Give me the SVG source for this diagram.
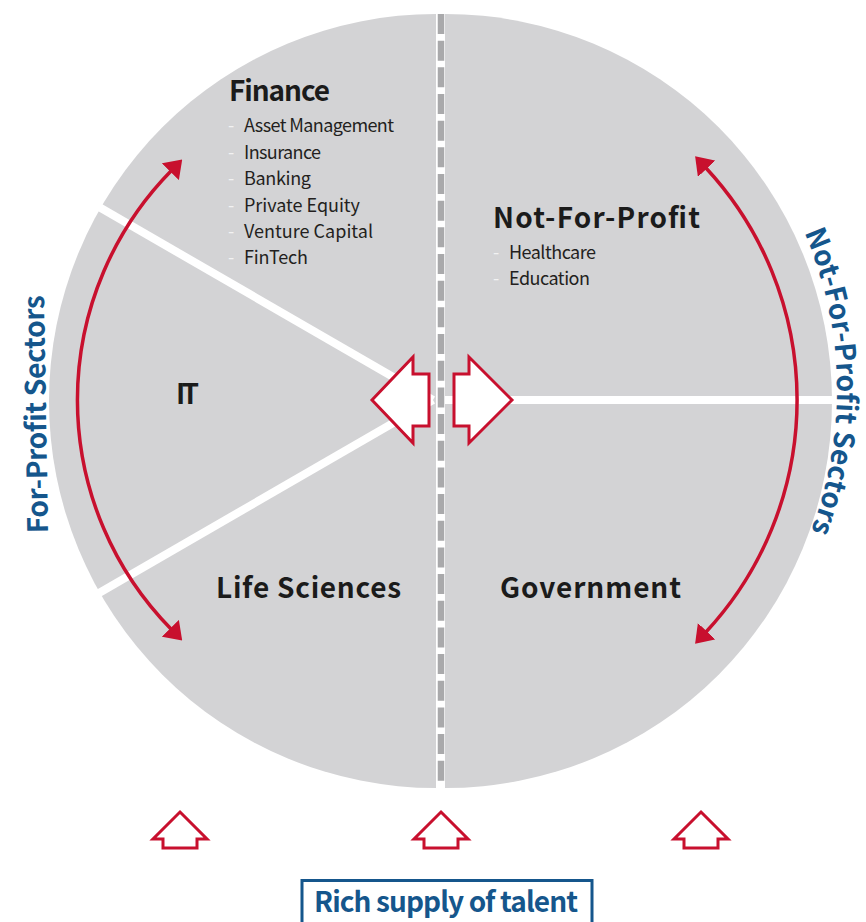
<svg xmlns="http://www.w3.org/2000/svg" width="866" height="922" viewBox="0 0 866 922">
  <defs>
    <style>
      .half { fill: #d3d3d5; }
      .split { stroke: #ffffff; stroke-width: 8; fill: none; }
      .axis { stroke: #a9a9ab; stroke-width: 6.5; stroke-dasharray: 20 6.67; fill: none; }
      .swing { stroke: #c8102e; stroke-width: 3.5; fill: none; }
      .block { fill: #ffffff; stroke: #c8102e; stroke-width: 3; stroke-linejoin: miter; }
      .head { font-family: "Noto Sans CJK SC", "Noto Sans", sans-serif; font-size: 28px; font-weight: 700; fill: #1b1b1b; }
      .item { font-family: "Noto Sans CJK SC", "Noto Sans", sans-serif; font-size: 18px; font-weight: 400; fill: #231f20; }
      .bullet { font-family: "Noto Sans CJK SC", "Noto Sans", sans-serif; font-size: 18px; fill: #f2f2f2; }
      .side { font-family: "Noto Sans CJK SC", "Noto Sans", sans-serif; font-size: 28px; font-weight: 700; fill: #15568c; }
      .talent-box { fill: #ffffff; stroke: #15568c; stroke-width: 3; }
    </style>
    <marker id="tip" viewBox="0 0 17 24" refX="1" refY="12" markerWidth="17" markerHeight="24" markerUnits="userSpaceOnUse" orient="auto-start-reverse">
      <path d="M0,0 L17,12 L0,24 Z" fill="#c8102e"/>
    </marker>
    <!-- baseline for the curved right-hand caption -->
    <path id="rightRim" d="M744.6,136.1 A395,395 0 0 1 744.6,643.9"/>
  </defs>

  <!-- pie halves -->
  <g id="for-profit-half">
    <path class="half" d="M436,14 A387,387 0 0 0 436,788 Z"/>
  </g>
  <g id="not-for-profit-half">
    <path class="half" d="M445,14 A387,387 0 0 1 445,788 Z"/>
  </g>

  <!-- sector dividers and centre axis -->
  <g id="dividers">
    <line class="split" x1="433" y1="400" x2="80" y2="196"/>
    <line class="split" x1="433" y1="400" x2="80" y2="604"/>
    <line class="split" x1="445" y1="400" x2="845" y2="400" stroke-width="9"/>
    <line class="axis" x1="441" y1="14" x2="441" y2="781"/>
  </g>

  <!-- sector labels -->
  <g id="finance">
    <text class="head" x="229" y="101" textLength="101">Finance</text>
    <text class="bullet" x="228" y="132">-</text>
    <text class="item" x="244" y="132" textLength="150">Asset Management</text>
    <text class="bullet" x="228" y="158.5">-</text>
    <text class="item" x="244" y="158.5" textLength="77">Insurance</text>
    <text class="bullet" x="228" y="185">-</text>
    <text class="item" x="244" y="185" textLength="67">Banking</text>
    <text class="bullet" x="228" y="211.5">-</text>
    <text class="item" x="244" y="211.5" textLength="116">Private Equity</text>
    <text class="bullet" x="228" y="238">-</text>
    <text class="item" x="244" y="238" textLength="129">Venture Capital</text>
    <text class="bullet" x="228" y="264">-</text>
    <text class="item" x="244" y="264" textLength="64">FinTech</text>
  </g>
  <g id="it">
    <text class="head" x="176" y="403.5" textLength="23">IT</text>
  </g>
  <g id="life-sciences">
    <text class="head" x="216" y="598" textLength="185">Life Sciences</text>
  </g>
  <g id="not-for-profit">
    <text class="head" x="493" y="228" textLength="207">Not-For-Profit</text>
    <text class="bullet" x="493" y="259">-</text>
    <text class="item" x="509" y="259" textLength="87">Healthcare</text>
    <text class="bullet" x="493" y="285">-</text>
    <text class="item" x="509" y="285" textLength="81">Education</text>
  </g>
  <g id="government">
    <text class="head" x="500" y="598" textLength="181">Government</text>
  </g>

  <!-- side captions -->
  <g id="for-profit-caption">
    <text class="side" transform="translate(46,414) rotate(-91)" text-anchor="middle" textLength="238">For-Profit Sectors</text>
  </g>
  <g id="not-for-profit-caption">
    <text class="side" font-size="27" letter-spacing="0.2"><textPath href="#rightRim" startOffset="267" text-anchor="middle">Not-For-Profit Sectors</textPath></text>
  </g>

  <!-- talent source -->
  <g id="talent">
    <rect class="talent-box" x="302" y="880.5" width="290" height="44"/>
    <text class="side" x="314" y="912" textLength="264">Rich supply of talent</text>
  </g>

  <!-- connectors -->
  <g id="connectors">
    <path class="swing" d="M171,171 A327,327 0 0 0 171,629" marker-start="url(#tip)" marker-end="url(#tip)"/>
    <path class="swing" d="M706,168 A341,341 0 0 1 706,632" marker-start="url(#tip)" marker-end="url(#tip)"/>
    <polygon class="block" points="372,400 413,357 413,374 429,374 429,426 413,426 413,443"/>
    <polygon class="block" points="512,400 469,357 469,374 454,374 454,426 469,426 469,443"/>
    <polygon class="block" points="180,812 207,839 197,839 197,848 163,848 163,839 153,839"/>
    <polygon class="block" points="441,812 468,839 458,839 458,848 424,848 424,839 414,839"/>
    <polygon class="block" points="701,812 728,839 718,839 718,848 684,848 684,839 674,839"/>
  </g>
</svg>
